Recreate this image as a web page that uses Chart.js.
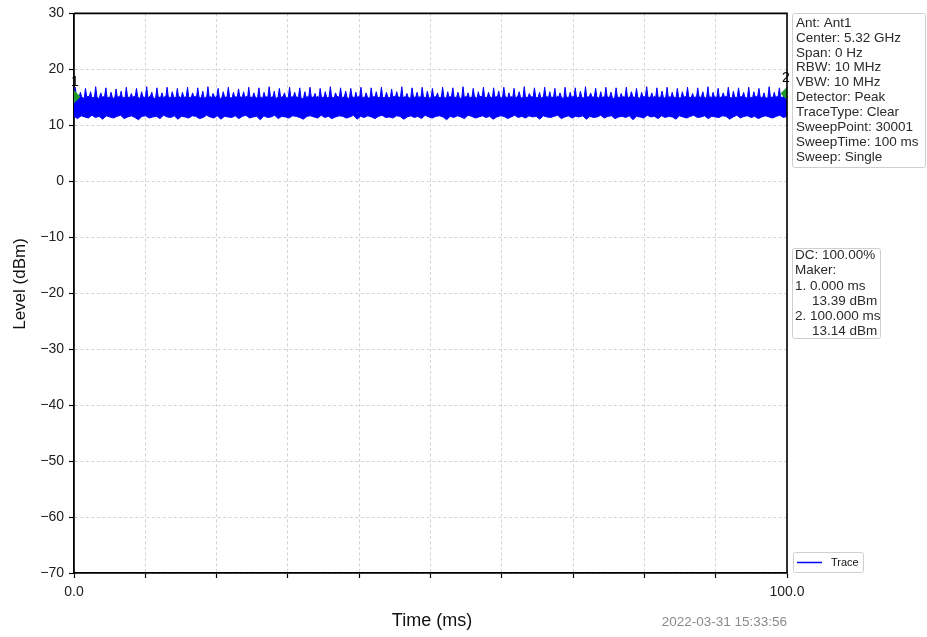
<!DOCTYPE html>
<html>
<head>
<meta charset="utf-8">
<script src="https://cdn.jsdelivr.net/npm/chart.js@4/dist/chart.umd.min.js"></script>
<style>
html,body{margin:0;padding:0;background:#fff;}
#wrap{width:927px;height:637px;position:relative;}
</style>
</head>
<body>
<div id="wrap"><canvas id="c" width="927" height="637"></canvas></div>
<script>
// ---- data ----
const timeRange = [0, 100];           // ms
const levelRange = [-70, 30];         // dBm
const xTickLabels = ['0.0', '100.0'];
const seriesName = 'Trace';

// upper edge of the trace (dBm), uniformly sampled over the sweep
const traceUpper = [
15.0,16.8,14.9,15.1, 15.0,15.9,15.1,14.9, 14.8,16.6,15.0,15.2, 15.1,16.0,14.9,15.0, 14.9,16.9,15.1,14.8, 15.0,15.8,15.0,15.1, 15.2,16.7,14.9,15.0, 14.9,15.9,15.1,14.8, 15.0,16.5,15.0,15.1, 15.1,16.1,14.8,15.0,
14.9,16.8,15.1,15.0, 15.0,15.7,14.9,15.2, 15.1,16.6,15.0,14.9, 14.8,16.0,15.1,15.0, 15.0,16.9,14.9,15.1, 15.2,15.9,15.0,14.8, 14.9,16.7,15.1,15.0, 15.0,15.8,14.9,15.1, 15.1,16.8,15.0,15.0, 14.9,16.0,15.2,14.9,
15.0,16.6,15.0,15.1, 14.8,15.9,15.1,15.0, 15.1,16.8,14.9,15.0, 15.0,15.8,15.0,15.2, 14.9,16.7,15.1,14.9, 15.1,16.1,14.8,15.0, 15.0,16.9,15.0,15.1, 14.9,15.7,15.2,15.0, 15.2,16.6,14.9,14.8, 15.0,16.0,15.1,15.0,
15.1,16.8,15.0,14.9, 14.9,15.9,15.0,15.1, 15.0,16.5,15.1,15.0, 15.1,16.0,14.9,15.2, 14.8,16.8,15.0,15.0, 15.0,15.8,15.1,14.9, 15.1,16.7,14.9,15.0, 14.9,15.9,15.0,15.1, 15.0,16.9,15.2,15.0, 15.1,16.1,14.8,14.9,
15.0,16.6,15.1,15.0, 15.2,15.8,15.0,14.9, 14.9,16.8,15.0,15.1, 15.0,15.9,15.1,15.0, 15.1,16.7,14.9,14.8, 14.9,16.0,15.0,15.1, 15.0,16.8,15.1,15.0, 15.1,15.7,14.9,15.2, 14.8,16.6,15.0,15.0, 15.0,16.0,15.1,14.9,
15.1,16.9,15.0,15.0, 14.9,15.8,15.2,15.1, 15.0,16.7,14.9,15.0, 15.1,16.1,15.0,14.8, 15.0,16.6,15.1,15.0, 14.9,15.9,15.0,15.1, 15.2,16.8,14.9,15.0, 15.0,15.8,15.1,14.9, 14.9,16.7,15.0,15.1, 15.1,16.0,14.9,15.0,
15.0,16.8,15.1,14.9, 15.1,15.9,15.0,15.0, 14.8,16.5,15.0,15.2, 15.0,16.0,15.1,15.0, 15.1,16.9,14.9,15.1, 15.0,15.7,15.0,14.9, 14.9,16.7,15.2,15.0, 15.1,15.9,14.9,15.1, 15.0,16.8,15.0,15.0, 14.9,16.1,15.1,14.8,
15.0,16.6,15.0,15.1, 15.1,15.8,14.9,15.0, 15.0,16.8,15.1,14.9, 14.9,16.0,15.0,15.1, 15.2,16.7,15.0,15.0, 15.0,15.9,15.1,14.8, 14.9,16.9,15.0,15.1, 15.1,15.8,14.9,15.0, 15.0,16.6,15.1,15.0, 14.8,16.0,15.0,15.2,
15.1,16.8,14.9,15.0, 15.0,15.9,15.1,15.0, 14.9,16.7,15.0,15.1, 15.1,16.1,15.0,14.9, 15.0,16.8,15.2,15.0, 14.9,15.8,15.0,15.1, 15.0,16.6,14.9,15.0, 15.2,16.0,15.1,14.9, 14.9,16.9,15.0,15.0, 15.0,15.7,15.1,15.1,
15.0,16.7,15.0,14.9, 15.1,15.9,14.8,15.0, 15.0,16.8,15.1,15.1, 14.9,16.0,15.0,15.0, 15.1,16.6,14.9,15.2, 15.0,15.8,15.1,14.9, 14.8,16.8,15.0,15.0, 15.0,15.9,15.0,15.1, 15.1,16.7,14.9,15.0, 15.0,16.1,15.1,14.9,
14.9,16.9,15.0,15.1, 15.0,15.8,15.1,15.0, 15.2,16.6,15.0,14.9, 15.0,16.0,14.9,15.1, 14.9,16.8,15.1,15.0, 15.1,15.9,15.0,14.8, 15.0,16.7,15.1,15.0, 14.9,15.7,15.0,15.1, 15.0,16.8,14.9,15.0, 15.1,16.0,15.2,15.0,
15.0,16.6,15.0,14.9, 14.8,15.9,15.1,15.1, 15.1,16.9,15.0,15.0, 15.0,15.8,14.9,15.2, 14.9,16.7,15.0,15.0, 15.0,16.1,15.1,14.9, 15.1,16.8,14.9,15.1, 15.0,15.9,15.0,15.0, 14.9,16.6,15.1,14.8, 15.0,16.0,15.0,15.1,
15.1,16.8,15.0,15.0, 15.0,15.7,14.9,15.1, 14.9,16.7,15.1,15.0, 15.1,16.0,15.0,14.9, 15.0,16.9,15.0,15.1, 14.8,15.9,15.1,15.0, 15.0,16.6,14.9,15.0, 15.1,15.8,15.0,15.2, 15.0,16.8,15.1,14.9, 14.9,16.1,15.0,15.0,
15.0,16.7,15.1,15.1, 15.1,15.9,15.0,14.9, 15.0,16.8,14.9,15.0, 14.9,16.0,15.1,15.1, 15.2,16.6,15.0,15.0, 15.0,15.8,14.9,14.9, 14.9,16.9,15.1,15.0, 15.0,15.9,15.0,15.1, 15.1,16.7,15.0,15.0, 15.0,16.0,15.1,15.2
];

// lower edge of the trace (dBm), uniformly sampled over the sweep
const traceLower = [
11.6,11.2,11.7,11.5,11.3,11.8,11.4,11.6,11.1,11.7,
11.5,11.3,11.6,11.8,11.2,11.5,11.7,11.4,11.0,11.6,
11.7,11.3,11.5,11.6,11.2,11.8,11.5,11.4,11.7,11.1,
11.6,11.5,11.3,11.7,11.6,11.2,11.4,11.8,11.5,11.3,
11.7,11.1,11.6,11.5,11.4,11.7,11.2,11.6,11.8,11.3,
11.5,11.6,11.0,11.7,11.4,11.5,11.8,11.2,11.6,11.5,
11.3,11.7,11.6,11.4,11.1,11.6,11.7,11.5,11.3,11.8,
11.4,11.6,11.2,11.5,11.7,11.6,11.3,11.5,11.8,11.1,
11.6,11.4,11.7,11.5,11.2,11.6,11.8,11.4,11.5,11.3,
11.7,11.6,11.1,11.5,11.7,11.4,11.6,11.2,11.8,11.5,
11.3,11.6,11.7,11.5,11.0,11.6,11.4,11.7,11.5,11.2,
11.8,11.6,11.3,11.5,11.7,11.4,11.6,11.1,11.5,11.7,
11.6,11.2,11.5,11.8,11.4,11.6,11.3,11.7,11.5,11.6,
11.1,11.7,11.5,11.4,11.6,11.8,11.2,11.5,11.7,11.3,
11.6,11.5,11.7,11.1,11.6,11.4,11.5,11.8,11.3,11.6,
11.7,11.2,11.5,11.6,11.4,11.7,11.0,11.6,11.5,11.3,
11.8,11.5,11.6,11.2,11.7,11.4,11.6,11.5,11.1,11.7,
11.5,11.3,11.6,11.8,11.4,11.5,11.7,11.2,11.6,11.5,
11.4,11.7,11.6,11.1,11.5,11.8,11.3,11.6,11.7,11.4,
11.6,11.2,11.5,11.7,11.5,11.3,11.6,11.8,11.4,11.6
];

// markers (time in ms, displayed level in dBm)
const markerNames = ['1', '2'];
const markerTimes = [0, 100];
const markerLevels = [15.1, 15.7];

const infoLines = ['Ant: Ant1','Center: 5.32 GHz','Span: 0 Hz','RBW: 10 MHz','VBW: 10 MHz','Detector: Peak','TraceType: Clear','SweepPoint: 30001','SweepTime: 100 ms','Sweep: Single'];
const markerInfoLines = ['DC: 100.00%','Maker:','1. 0.000 ms','    13.39 dBm','2. 100.000 ms','    13.14 dBm'];
const timestamp = '2022-03-31 15:33:56';
const xTitle = 'Time (ms)';
const yTitle = 'Level (dBm)';

// ---- build points (sample time from index over the sweep) ----
function toPoints(arr){
  const n = arr.length;
  return arr.map((v,i)=>({x: timeRange[0] + (timeRange[1]-timeRange[0]) * i/(n-1), y: v}));
}
const FONT = "'Liberation Sans', Arial, sans-serif";
const BLUE = '#0000ff';

const overlay = {
  id: 'overlay',
  afterDatasetsDraw(chart){
    const {ctx, chartArea: a, scales:{x, y}} = chart;
    ctx.save();
    // frame (top & right)
    ctx.strokeStyle = '#000'; ctx.lineWidth = 1.6;
    ctx.beginPath();
    ctx.moveTo(a.left, a.top); ctx.lineTo(a.right, a.top); ctx.lineTo(a.right, a.bottom);
    ctx.stroke();
    // marker labels
    ctx.fillStyle = '#000';
    ctx.font = '14px ' + FONT;
    ctx.textAlign = 'center'; ctx.textBaseline = 'middle';
    markerNames.forEach((n,i)=>{
      const px = x.getPixelForValue(markerTimes[i]);
      const py = y.getPixelForValue(markerLevels[i]);
      ctx.fillText(n, px + (i===0?1:-1), py - 15);
    });
    ctx.restore();
  },
  afterDraw(chart){
    const {ctx, chartArea: a} = chart;
    ctx.save();
    // info box 1
    function box(x0,y0,w,h){
      ctx.fillStyle = '#fff'; ctx.strokeStyle = '#cfcfcf'; ctx.lineWidth = 1;
      ctx.beginPath(); ctx.roundRect(x0+0.5,y0+0.5,w,h,2); ctx.fill(); ctx.stroke();
    }
    box(792, 13, 133, 154);
    ctx.fillStyle = '#2a2a2a';
    ctx.font = '13.5px ' + FONT;
    ctx.textAlign = 'left'; ctx.textBaseline = 'middle';
    infoLines.forEach((t,i)=> ctx.fillText(t, 796, 23 + i*14.9));
    box(792, 248, 88, 90);
    ctx.fillStyle = '#2a2a2a';
    markerInfoLines.forEach((t,i)=> ctx.fillText(t.trim(), t.startsWith(' ') ? 812 : 795, 255.5 + i*15.2));
    // legend
    box(793, 552, 70, 20);
    ctx.strokeStyle = BLUE; ctx.lineWidth = 1.5;
    ctx.beginPath(); ctx.moveTo(797, 562.5); ctx.lineTo(822, 562.5); ctx.stroke();
    ctx.fillStyle = '#111'; ctx.font = '11px ' + FONT;
    ctx.fillText(seriesName, 831, 562.5);
    // titles
    ctx.fillStyle = '#111';
    ctx.font = '18px ' + FONT;
    ctx.textAlign = 'center';
    ctx.fillText(xTitle, 432, 621);
    ctx.save();
    ctx.translate(20, 284); ctx.rotate(-Math.PI/2);
    ctx.font = '17px ' + FONT;
    ctx.fillText(yTitle, 0, 0);
    ctx.restore();
    // timestamp
    ctx.fillStyle = '#8a8a8a'; ctx.font = '13.5px ' + FONT;
    ctx.textAlign = 'right';
    ctx.fillText(timestamp, 787, 622);
    ctx.restore();
  }
};

new Chart(document.getElementById('c'), {
  type: 'line',
  data: {
    datasets: [
      { label: seriesName, data: toPoints(traceUpper), borderColor: BLUE, backgroundColor: BLUE,
        borderWidth: 1, pointRadius: 0, fill: {value: 12.2}, tension: 0, order: 2 },
      { label: 'lower', data: toPoints(traceLower), borderColor: BLUE, backgroundColor: BLUE,
        borderWidth: 1, pointRadius: 0, fill: {value: 14}, tension: 0, order: 3 },
      { label: 'markers', type: 'scatter', data: markerTimes.map((t,i)=>({x:t, y:markerLevels[i]})),
        pointStyle: 'rectRot', pointRadius: 6.5, backgroundColor: '#1f9a2a', borderColor: '#1f9a2a',
        borderWidth: 0, showLine: false, clip: 0, order: 1 }
    ]
  },
  options: {
    responsive: false, animation: false, devicePixelRatio: 1,
    layout: { padding: { left: 0, top: 13, right: 140, bottom: 0 } },
    plugins: { legend: { display: false }, tooltip: { enabled: false } },
    scales: {
      x: {
        type: 'linear', min: timeRange[0], max: timeRange[1],
        afterFit(s){ s.height = 64; },
        ticks: { stepSize: 10, autoSkip: false, maxRotation: 0, padding: 6, color: '#222',
          font: { family: FONT, size: 14 },
          callback: (v)=> v===timeRange[0] ? xTickLabels[0] : (v===timeRange[1] ? xTickLabels[1] : '') },
        grid: { color: '#cfcfcf', lineWidth: 0.9, tickLength: 5, tickColor: '#000', tickWidth: 1.2 },
        border: { color: '#000', width: 1.8, dash: [3, 2.5] }
      },
      y: {
        type: 'linear', min: levelRange[0], max: levelRange[1],
        afterFit(s){ s.width = 74; },
        ticks: { stepSize: 10, padding: 5, color: '#222', font: { family: FONT, size: 14 },
          callback: (v)=> String(v).replace('-', '\u2212') },
        grid: { color: '#cfcfcf', lineWidth: 0.9, tickLength: 5, tickColor: '#000', tickWidth: 1.2 },
        border: { color: '#000', width: 1.8, dash: [3, 2.5] }
      }
    }
  },
  plugins: [overlay]
});
</script>
</body>
</html>
